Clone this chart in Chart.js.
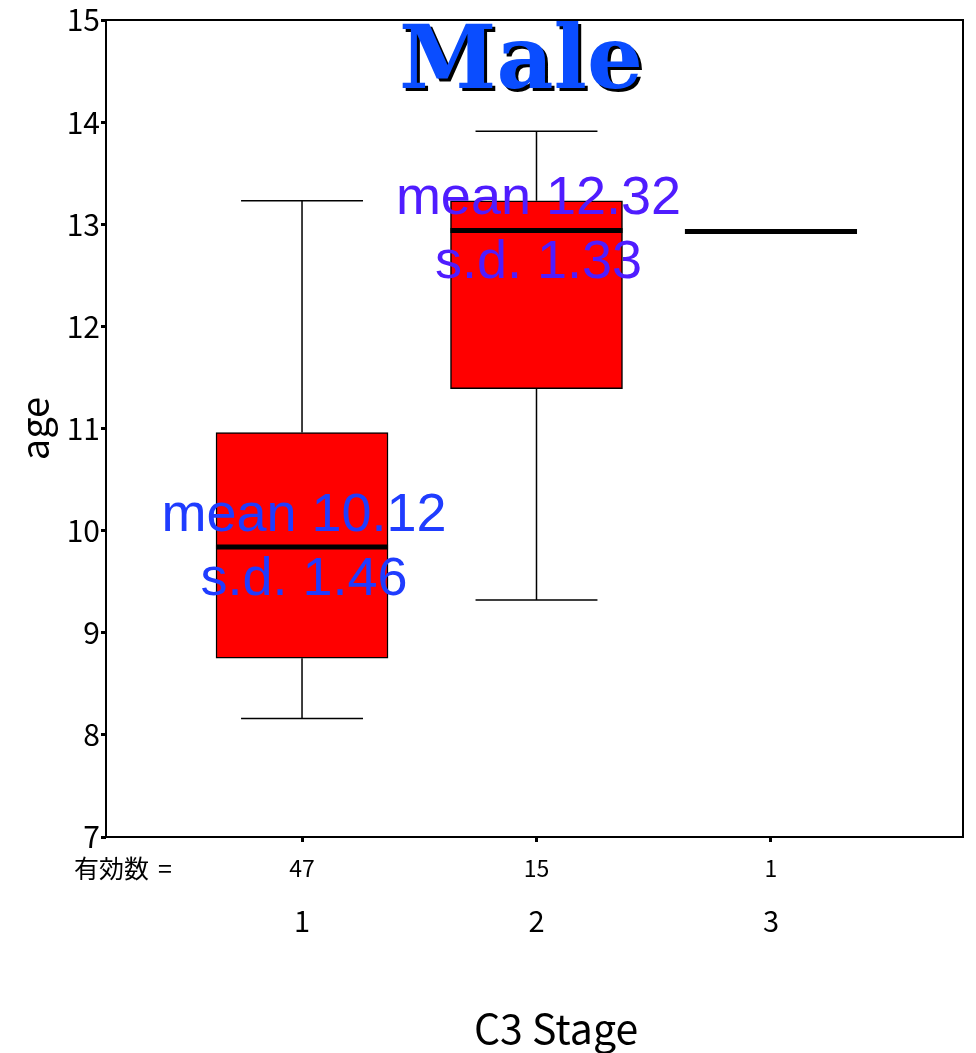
<!DOCTYPE html>
<html>
<head>
<meta charset="utf-8">
<script src="https://cdn.jsdelivr.net/npm/chart.js@4/dist/chart.umd.min.js"></script>
<style>
  body { margin: 0; background: #fff; }
  canvas { display: block; }
</style>
</head>
<body>
<canvas id="boxChart" width="976" height="1053"></canvas>
<script>
// Groupes (C3 Stage) et statistiques
const stages = [1, 2, 3];
const counts = [47, 15, 1];
const whiskerLow = [8.16, 9.32, null];
const q1 = [8.75, 11.39, null];
const medians = [9.84, 12.94, 12.93];
const q3 = [10.96, 13.23, null];
const whiskerHigh = [13.23, 13.91, null];
const meanLabels = ["mean 10.12", "mean 12.32", null];
const sdLabels = ["s.d. 1.46", "s.d. 1.33", null];
const labelColors = ["#1f3cff", "#4f1cff", null];
const yTicks = [7, 8, 9, 10, 11, 12, 13, 14, 15];

const boxHalf = 0.367;
const capHalf = 0.26;
const gothic = "'Noto Sans CJK JP', 'Liberation Sans', sans-serif";

// Boîtes (barres flottantes q1 -> q3)
const boxData = [];
stages.forEach((s, i) => {
    if (q1[i] !== null) boxData.push({ x: s, y: [q1[i], q3[i]] });
});

// Moustaches + barres de fin
const whiskerData = [];
stages.forEach((s, i) => {
    if (whiskerLow[i] === null) return;
    whiskerData.push({ x: s, y: whiskerLow[i] }, { x: s, y: q1[i] }, { x: s, y: null });
    whiskerData.push({ x: s, y: q3[i] }, { x: s, y: whiskerHigh[i] }, { x: s, y: null });
    whiskerData.push({ x: s - capHalf, y: whiskerLow[i] }, { x: s + capHalf, y: whiskerLow[i] }, { x: s, y: null });
    whiskerData.push({ x: s - capHalf, y: whiskerHigh[i] }, { x: s + capHalf, y: whiskerHigh[i] }, { x: s, y: null });
});

// Médianes
const medianData = [];
stages.forEach((s, i) => {
    medianData.push({ x: s - boxHalf, y: medians[i] }, { x: s + boxHalf, y: medians[i] }, { x: s, y: null });
});

// Textes supplémentaires : titre, cadre, moyennes, effectifs
const extrasPlugin = {
    id: "extras",
    afterDraw(chart) {
        const { ctx, chartArea: a, scales } = chart;
        ctx.save();

        // cadre du graphique
        ctx.strokeStyle = "#000";
        ctx.lineWidth = 2;
        ctx.strokeRect(a.left, a.top, a.right - a.left, a.bottom - a.top);

        // moyenne / écart-type
        ctx.font = "54px 'Liberation Sans', Arial, sans-serif";
        ctx.textAlign = "center";
        ctx.textBaseline = "middle";
        stages.forEach((s, i) => {
            if (!meanLabels[i]) return;
            const x = scales.x.getPixelForValue(s) + 2;
            const y = scales.y.getPixelForValue(medians[i]);
            ctx.fillStyle = labelColors[i];
            ctx.fillText(meanLabels[i], x, y - 31);
            ctx.fillText(sdLabels[i], x, y + 33);
        });

        // titre avec ombre
        ctx.font = "bold 88px 'DejaVu Serif', serif";
        ctx.textBaseline = "alphabetic";
        ctx.fillStyle = "#000";
        ctx.fillText("Male", 524, 91);
        ctx.fillStyle = "#0a4dff";
        ctx.fillText("Male", 521, 88);

        // effectifs
        ctx.fillStyle = "#000";
        ctx.font = "25px " + gothic;
        ctx.textAlign = "right";
        ctx.fillText("有効数", 149, 878);
        ctx.fillText("=", 172, 878);
        ctx.font = "23px " + gothic;
        ctx.textAlign = "center";
        stages.forEach((s, i) => {
            ctx.fillText(String(counts[i]), scales.x.getPixelForValue(s), 877);
        });

        // titre de l'axe x
        ctx.font = "41px " + gothic;
        ctx.fillText("C3 Stage", 556, 1044);
        ctx.restore();
    }
};

new Chart(document.getElementById("boxChart").getContext("2d"), {
    data: {
        datasets: [
            {
                type: "bar",
                data: boxData,
                backgroundColor: "#ff0000",
                borderColor: "#000",
                borderWidth: 1.5,
                borderSkipped: false,
                barThickness: 172,
                grouped: false,
                order: 3,
            },
            {
                type: "line",
                data: whiskerData,
                borderColor: "#000",
                borderWidth: 1.5,
                pointRadius: 0,
                spanGaps: false,
                order: 2,
            },
            {
                type: "line",
                data: medianData,
                borderColor: "#000",
                borderWidth: 5,
                pointRadius: 0,
                spanGaps: false,
                order: 1,
            },
        ],
    },
    options: {
        responsive: false,
        animation: false,
        layout: { padding: { top: 20, right: 13, left: 0, bottom: 0 } },
        plugins: {
            legend: { display: false },
            tooltip: { enabled: false },
        },
        scales: {
            x: {
                type: "linear",
                min: 0.164,
                max: 3.819,
                offset: false,
                afterBuildTicks: scale => {
                    scale.ticks = stages.map(v => ({ value: v }));
                },
                afterFit: scale => { scale.height = 216; },
                border: { display: false },
                grid: { offset: false, drawOnChartArea: false, tickLength: 5, tickWidth: 3, color: "#000" },
                ticks: {
                    color: "#000",
                    font: { family: gothic, size: 29 },
                    padding: 62,
                    maxRotation: 0,
                    callback: v => String(v),
                },
            },
            y: {
                type: "linear",
                min: 7,
                max: 15,
                afterBuildTicks: scale => {
                    scale.ticks = yTicks.map(v => ({ value: v }));
                },
                afterFit: scale => { scale.width = 106; },
                border: { display: false },
                grid: { drawOnChartArea: false, tickLength: 5, tickWidth: 3, color: "#000" },
                ticks: {
                    color: "#000",
                    font: { family: gothic, size: 30 },
                    padding: 1,
                },
                title: {
                    display: true,
                    text: "age",
                    color: "#000",
                    font: { family: gothic, size: 38 },
                    padding: { top: 12, bottom: 0 },
                },
            },
        },
    },
    plugins: [extrasPlugin],
});
</script>
</body>
</html>
